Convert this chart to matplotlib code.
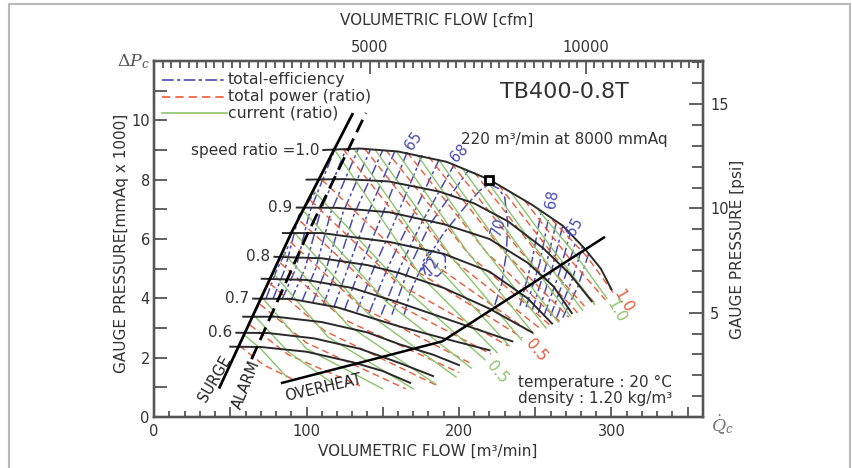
import matplotlib
matplotlib.use('Agg')
import matplotlib.pyplot as plt
from matplotlib.patches import Rectangle
from matplotlib.ticker import MultipleLocator, FuncFormatter

plt.rcParams['font.family'] = ['DejaVu Sans']

# ---- data: flow Q [m3/min], pressure P [mmAq x 1000] ----
speed_ratios = [1.0, 0.95, 0.9, 0.85, 0.8, 0.75, 0.7, 0.65, 0.6, 0.55]
speed_q = [
    [111, 135, 160, 192, 220, 248, 268, 282, 293, 300],
    [100, 125, 154, 187, 210, 232, 255, 273, 287],
    [93.6, 120, 154.5, 190, 220, 245, 262, 274],
    [84.5, 110, 154.5, 190, 220, 245, 261],
    [79, 110, 140, 161, 190, 220, 248],
    [70.6, 100, 130, 161, 195, 235],
    [65, 90, 120, 161, 190, 220],
    [58.5, 80, 110, 140, 161, 183, 200],
    [54, 75, 105, 135, 161, 183],
    [50, 70, 100, 130, 150, 168],
]
speed_p = [
    [9.0, 9.05, 8.95, 8.6, 8.0, 7.15, 6.45, 5.7, 5.0, 4.3],
    [8.0, 8.02, 7.94, 7.6, 7.2, 6.6, 5.7, 4.8, 3.9],
    [7.06, 7.05, 6.9, 6.5, 6.0, 5.2, 4.4, 3.5],
    [6.2, 6.2, 5.9, 5.5, 4.9, 4.0, 3.15],
    [5.4, 5.35, 5.12, 4.85, 4.35, 3.65, 2.85],
    [4.66, 4.62, 4.35, 3.85, 3.25, 2.55],
    [3.99, 3.98, 3.7, 3.05, 2.65, 2.25],
    [3.38, 3.38, 3.2, 2.85, 2.45, 2.1, 1.75],
    [2.84, 2.83, 2.65, 2.3, 1.82, 1.38],
    [2.37, 2.36, 2.2, 1.85, 1.55, 1.15],
]
speed_labels = {1.0: 'speed ratio =1.0', 0.9: '0.9', 0.8: '0.8', 0.7: '0.7', 0.6: '0.6'}

# total power ratio lines 1.0 ... 0.1 (top, middle, bottom points)
power_lines = [
    [(261, 6.65), (284, 5.4), (301, 4.2)],
    [(243, 7.3), (273, 5.3), (296, 3.95)],
    [(226, 7.82), (262, 5.45), (290, 3.78)],
    [(210, 8.25), (251, 5.55), (284, 3.63)],
    [(195, 8.55), (240, 5.6), (278, 3.5)],
    [(180, 8.78), (229, 5.6), (272, 3.36)],
    [(166, 8.92), (218, 5.55), (266, 3.22)],
    [(152, 9.0), (207, 5.45), (260, 3.08)],
    [(138, 9.05), (196, 5.3), (254, 2.95)],
    [(124, 9.03), (185, 5.1), (248, 2.81)],
    [(110, 8.0), (174, 4.86), (241.6, 2.67)],
    [(102.6, 7.3), (160, 4.5), (232, 2.4)],
    [(96, 6.6), (148, 4.1), (221, 2.12)],
    [(89.4, 5.9), (136, 3.7), (208, 1.8)],
    [(82.7, 5.2), (124, 3.3), (200, 1.5)],
    [(76, 4.5), (112, 2.9), (186, 1.05)],
    [(69.5, 3.8), (100, 2.5), (165, 0.95)],
    [(63, 3.1), (88, 2.1), (135, 1.05)],
    [(56, 2.4), (72, 1.75), (92, 1.25)],
]

# current ratio lines 1.0 ... 0.15
current_lines = [
    [(252, 6.98), (276, 5.5), (297, 4.0)],
    [(234, 7.58), (260, 5.75), (289, 3.8)],
    [(217, 8.06), (248, 5.85), (281, 3.6)],
    [(202, 8.39), (237, 5.9), (273, 3.4)],
    [(187, 8.65), (226, 5.85), (265, 3.2)],
    [(173, 8.81), (215, 5.75), (257, 3.0)],
    [(159, 8.95), (205, 5.6), (249, 2.8)],
    [(145, 9.01), (195, 5.4), (241, 2.6)],
    [(131, 9.04), (185, 5.1), (233, 2.4)],
    [(118.5, 9.0), (175, 4.75), (225, 2.17)],
    [(105, 7.6), (165, 4.3), (217, 1.93)],
    [(98.8, 6.9), (152, 3.9), (208, 1.65)],
    [(92.2, 6.2), (140, 3.5), (198, 1.35)],
    [(85.6, 5.5), (127, 3.1), (185, 1.1)],
    [(79, 4.8), (114, 2.7), (170, 0.95)],
    [(71.4, 4.0), (100, 2.3), (150, 0.95)],
    [(66, 3.4), (88, 2.2), (118, 1.1)],
    [(59.5, 2.75), (70, 2.3), (87, 1.35)],
]

# total efficiency contours
eff_left = [
    [(73.5, 4.0), (80, 4.9), (88, 5.75)],
    [(78, 3.98), (86, 5.0), (95, 6.8), (106, 7.6)],
    [(84, 3.97), (93, 5.0), (102, 6.9), (118, 8.95)],
    [(90, 3.95), (99, 5.0), (109, 6.9), (126, 9.04)],
    [(97, 3.9), (106, 5.0), (116, 6.9), (134, 9.05)],
    [(104, 3.85), (113, 5.0), (124, 6.9), (142, 9.03)],
    [(111, 3.78), (120, 5.0), (131, 6.8), (150, 9.0)],
    [(118, 3.7), (127, 5.0), (139, 6.7), (158, 8.97)],
    [(125, 3.62), (135, 5.0), (148, 6.6), (166, 8.93)],
    [(133, 3.55), (144, 5.0), (157, 6.5), (176, 8.85)],
    [(141, 3.5), (153, 5.0), (166, 6.4), (187, 8.68)],
    [(149, 3.45), (161, 5.0), (175, 6.5), (197, 8.52)],
    [(156, 3.45), (167, 5.0), (181, 6.5), (206, 8.3)],
]
eff_right = [
    [(240, 3.75), (248, 5.3), (254, 6.95)],
    [(244, 3.7), (253, 5.2), (259, 6.78)],
    [(248, 3.6), (257, 5.1), (264, 6.6)],
    [(252, 3.5), (261, 5.0), (268, 6.45)],
    [(256, 3.45), (266, 4.9), (273, 6.2)],
    [(260, 3.4), (270, 4.8), (277, 6.0)],
    [(264, 3.35), (274, 4.6), (281, 5.75)],
    [(268, 3.35), (278, 4.4), (285, 5.5)],
]
eff_70 = [(164, 3.45), (168, 4.2), (175, 5.0), (190, 6.2), (205, 7.15), (214, 7.65),
          (220, 7.85), (226, 7.7), (230, 7.4), (232, 6.5), (231, 5.5), (228, 4.5), (223, 3.7)]
eff_72 = [(178, 4.8), (176, 5.2), (180, 5.55), (186, 5.65), (191, 5.4), (191, 5.0),
          (186, 4.75), (178, 4.8)]
eff_labels = [('65', 170, 9.3, 55), ('68', 200, 8.9, 45), ('68', 261, 7.35, 80),
              ('65', 276, 6.4, 60), ('70', 226, 6.4, 72), ('72', 182, 5.1, 60)]

surge_q = [43, 90, 130]
surge_p = [1.0, 6.2, 10.2]
alarm_q = [64, 100, 139]
alarm_p = [1.95, 6.1, 10.25]
overheat_q = [84, 189, 295]
overheat_p = [1.15, 2.55, 6.05]
rated_q, rated_p = 220, 8.0

CFM = 0.0283168       # m3 per ft3
PSI = 0.70307         # mmAq x 1000 per psi

BLUE = '#4a4ab2'
RED = '#ea5a3a'
GREEN = '#8cc46c'
BLACK = '#2a2a2a'
TXT = '#333333'

fig = plt.figure(figsize=(8.53, 4.68), dpi=100)
ax = fig.add_axes([154 / 853, 1 - 417 / 468, 549 / 853, 356 / 468])
ax.set_xlim(0, 360)
ax.set_ylim(0, 12)

# efficiency
for line in eff_left + eff_right + [eff_70, eff_72]:
    q, p = zip(*line)
    ax.plot(q, p, color=BLUE, lw=1.1, ls=(0, (7, 2, 2, 2)), zorder=2)
for txt, q, p, rot in eff_labels:
    ax.text(q, p, txt, color=BLUE, fontsize=10.5, rotation=rot,
            ha='center', va='center', zorder=7)

# power and current
for line in power_lines:
    q, p = zip(*line)
    ax.plot(q, p, color=RED, lw=1.0, ls=(0, (5, 3)), zorder=3)
for line in current_lines:
    q, p = zip(*line)
    ax.plot(q, p, color=GREEN, lw=1.0, zorder=3)
ax.text(250.5, 2.26, '0.5', color=RED, fontsize=11, rotation=-50, ha='center', va='center')
ax.text(308, 3.9, '1.0', color=RED, fontsize=11, rotation=-60, ha='center', va='center')
ax.text(225, 1.52, '0.5', color=GREEN, fontsize=11, rotation=-50, ha='center', va='center')
ax.text(303, 3.55, '1.0', color=GREEN, fontsize=11, rotation=-60, ha='center', va='center')

# speed lines
for n, q, p in zip(speed_ratios, speed_q, speed_p):
    ax.plot(q, p, color=BLACK, lw=1.4, zorder=4)
    if n in speed_labels:
        ax.annotate(speed_labels[n], xy=(q[0], p[0]), xytext=(-3, 0),
                    textcoords='offset points', ha='right', va='center',
                    fontsize=11, color=TXT)

# limits
ax.plot(surge_q, surge_p, color='black', lw=2.0, zorder=5)
ax.plot(alarm_q, alarm_p, color='black', lw=2.0, ls=(0, (5, 2.5)), zorder=5)
ax.plot(overheat_q, overheat_p, color='black', lw=1.8, zorder=5)
ax.plot(rated_q, rated_p, marker='s', ms=6, mfc='white', mec='black', mew=2, zorder=6)
ax.text(40, 1.3, 'SURGE', fontsize=10.5, rotation=60, ha='center', va='center', color='#222')
ax.text(60.5, 1.1, 'ALARM', fontsize=10.5, rotation=68, ha='center', va='center', color='#222')
ax.text(111, 0.98, 'OVERHEAT', fontsize=10.5, rotation=13, ha='center', va='center', color='#222')

# annotations
ax.text(269, 10.95, 'TB400-0.8T', fontsize=16, ha='center', va='center', color=TXT)
ax.text(269, 9.36, '220 m³/min at 8000 mmAq', fontsize=11, ha='center', va='center', color=TXT)
ax.text(238.7, 1.15, 'temperature : 20 °C', fontsize=11, ha='left', va='center', color=TXT)
ax.text(238.7, 0.64, 'density : 1.20 kg/m³', fontsize=11, ha='left', va='center', color=TXT)

# legend drawn by hand
leg = [('total-efficiency', BLUE, (0, (7, 2, 2, 2))),
       ('total power (ratio)', RED, (0, (5, 3))),
       ('current (ratio)', GREEN, '-')]
for i, (txt, col, ls) in enumerate(leg):
    y = 0.947 - i * 0.047
    ax.plot([0.015, 0.133], [y, y], transform=ax.transAxes, color=col, lw=1.2, ls=ls)
    ax.text(0.134, y, txt, transform=ax.transAxes, fontsize=11.3, ha='left',
            va='center', color=TXT)

# axes styling
ax.xaxis.set_major_locator(MultipleLocator(50))
ax.xaxis.set_minor_locator(MultipleLocator(10))
ax.xaxis.set_major_formatter(FuncFormatter(lambda v, p: f'{v:.0f}' if v % 100 == 0 else ''))
ax.yaxis.set_major_locator(MultipleLocator(2))
ax.yaxis.set_minor_locator(MultipleLocator(1))
ax.yaxis.set_major_formatter(FuncFormatter(lambda v, p: f'{v:.0f}' if v <= 10 else ''))
ax.tick_params(which='both', direction='in', colors='#555555', labelcolor=TXT,
               labelsize=10.5, width=1.3)
ax.tick_params(axis='x', which='major', length=7, pad=5)
ax.tick_params(axis='x', which='minor', length=4)
ax.tick_params(axis='y', which='both', length=9, pad=3)

ax_top = ax.twiny()
ax_top.set_xlim(0, 360 / CFM)
ax_top.xaxis.set_major_locator(MultipleLocator(5000))
ax_top.xaxis.set_minor_locator(MultipleLocator(200))
ax_top.xaxis.set_major_formatter(FuncFormatter(lambda v, p: f'{v:.0f}' if v > 0 else ''))
ax_top.tick_params(which='both', direction='in', colors='#555555', labelcolor=TXT,
                   labelsize=10.5, width=1.3, pad=4)
ax_top.tick_params(which='major', length=9)
ax_top.tick_params(which='minor', length=5)

ax_r = ax.twinx()
ax_r.set_ylim(0, 12 / PSI)
ax_r.yaxis.set_major_locator(MultipleLocator(5))
ax_r.yaxis.set_minor_locator(MultipleLocator(1))
ax_r.yaxis.set_major_formatter(FuncFormatter(lambda v, p: f'{v:.0f}' if v > 0 else ''))
ax_r.tick_params(which='both', direction='in', colors='#555555', labelcolor=TXT,
                 labelsize=10.5, width=1.3, pad=5)
ax_r.tick_params(which='major', length=10)
ax_r.tick_params(which='minor', length=8)
for a in [ax, ax_top, ax_r]:
    for s in a.spines.values():
        s.set_color('#555555')
        s.set_linewidth(1.6)

# axis titles
fig.text(428 / 853, 1 - 451 / 468, 'VOLUMETRIC FLOW [m³/min]', ha='center', va='center',
         fontsize=11, color=TXT)
fig.text(437 / 853, 1 - 20 / 468, 'VOLUMETRIC FLOW [cfm]', ha='center', va='center',
         fontsize=11, color=TXT)
fig.text(122 / 853, 1 - 243 / 468, 'GAUGE PRESSURE[mmAq x 1000]', ha='center', va='center',
         rotation=90, fontsize=11, color=TXT)
fig.text(738 / 853, 1 - 249 / 468, 'GAUGE PRESSURE [psi]', ha='center', va='center',
         rotation=90, fontsize=11, color=TXT)
fig.text(150 / 853, 1 - 62 / 468, r'$\Delta P_c$', ha='right', va='center', fontsize=12.5,
         color='#555', math_fontfamily='dejavuserif')
fig.text(722 / 853, 1 - 425 / 468, r'$\dot{Q}_c$', ha='center', va='center', fontsize=12.5,
         color='#777', math_fontfamily='dejavuserif')

fig.patches.append(Rectangle((9 / 853, -0.05), 841 / 853, 1.05 - 4 / 468,
                             transform=fig.transFigure, fill=False,
                             edgecolor='#b8b8b8', lw=1.5))

fig.savefig('out.png', dpi=100)
